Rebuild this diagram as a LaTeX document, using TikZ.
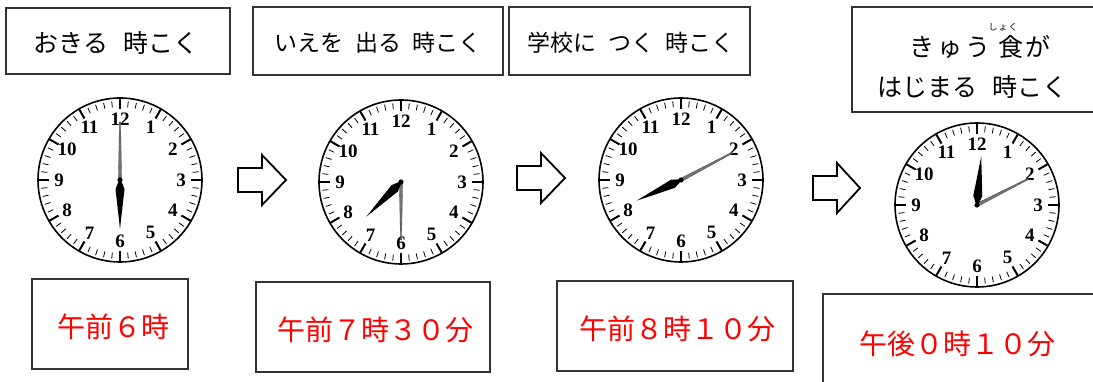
\documentclass[tikz,border=0pt]{standalone}
\usepackage{fontspec}
\newfontfamily\jpfont{Noto Sans CJK JP}
\newfontfamily\numfont{Liberation Serif}
\tikzset{
  frame/.style={draw=black!80, line width=1.2pt},
  toptext/.style={font=\jpfont\fontsize{23}{28}\selectfont, inner sep=0pt},
  bigtop/.style={font=\jpfont\fontsize{25}{30}\selectfont, inner sep=0pt},
  redtext/.style={font=\jpfont\fontsize{28}{32}\selectfont, text=red, inner sep=0pt},
  num/.style={font=\numfont\bfseries\fontsize{19}{19}\selectfont, inner sep=0pt},
  arrowshape/.style={draw=black, line width=1.8pt, fill=white, line join=miter},
  hourhand/.style={fill=black},
  minhand/.style={fill=black!55, draw=black!75, line width=0.3pt},
}
\newcommand\drawclock[4]{%
\begin{scope}[shift={(#1,#2)}]
  \draw[line width=1.6pt] (0,0) circle[radius=82pt];
  \foreach \i in {0,...,59} {\draw[line width=0.8pt] (\i*6:79) -- (\i*6:73);}
  \foreach \i in {0,...,11} {\draw[line width=2pt] (\i*30:82) -- (\i*30:71);}
  \foreach \n in {1,...,12} {\node[num] (n#1x\n) at ({90-\n*30}:61) {\n};}
  \fill[minhand, rotate=#4] (0,1.6) -- (58,0.6) -- (58,-0.6) -- (0,-1.6) -- cycle;
  \fill[hourhand, rotate=#3] (-2,0) -- (9,4.5) -- (49,0) -- (9,-4.5) -- cycle;
  \fill[black] (0,0) circle[radius=2.6pt];
\end{scope}}
\newcommand\drawarrow[3]{% left x, center y, right x
  \draw[arrowshape] (#1,#2+12) -- ({#1+24},#2+12) -- ({#1+24},#2+25) -- (#3,#2)
    -- ({#1+24},#2-25) -- ({#1+24},#2-12) -- (#1,#2-12) -- cycle;}
\begin{document}
\begin{tikzpicture}[x=1pt,y=1pt]
\useasboundingbox (0,0) rectangle (1093,382);
% top boxes
\draw[frame] (6,308) rectangle (230,374);
\draw[frame] (253,307) rectangle (503,375);
\draw[frame] (509,307) rectangle (750,375);
\draw[frame] (1100,375) -- (852,375) -- (852,270) -- (1100,270);
\node[bigtop] (t1) at (116,339) {おきる\hspace{0.6em}時こく};
\node[toptext] (t2) at (378,339) {いえを\hspace{0.5em}出る\hspace{0.5em}時こく};
\node[toptext] (t3) at (631,339) {学校に\hspace{0.5em}つく\hspace{0.5em}時こく};
\node[bigtop] (t4a) at (980,335) {き\hspace{3pt}ゅ\hspace{3pt}う\hspace{8pt}食\hspace{2pt}が};
\node[font=\jpfont\fontsize{9}{9}\selectfont, inner sep=0pt] (t4r) at (1003,355) {し\hspace{1pt}ょ\hspace{1pt}く};
\node[bigtop] (t4b) at (972,295) {はじまる\hspace{0.6em}時こく};
% clocks
\drawclock{120}{202}{-90}{90}
\drawclock{401}{200}{-135}{-90}
\drawclock{681}{202}{-155}{28}
\drawclock{977}{177}{85}{27}
% arrows
\drawarrow{238}{202}{286}
\drawarrow{517}{204}{565}
\drawarrow{813}{194}{860}
% bottom boxes
\draw[frame] (32,13) rectangle (188,103);
\draw[frame] (256,10) rectangle (490,100);
\draw[frame] (557,11) rectangle (793,101);
\draw[frame] (1100,88) -- (823,88) -- (823,-5);
\node[redtext] (r1) at (113,55) {午前６時};
\node[redtext] (r2) at (375,52) {午前７時３０分};
\node[redtext] (r3) at (677,53) {午前８時１０分};
\node[redtext] (r4) at (957,38) {午後０時１０分};
\end{tikzpicture}
\end{document}
